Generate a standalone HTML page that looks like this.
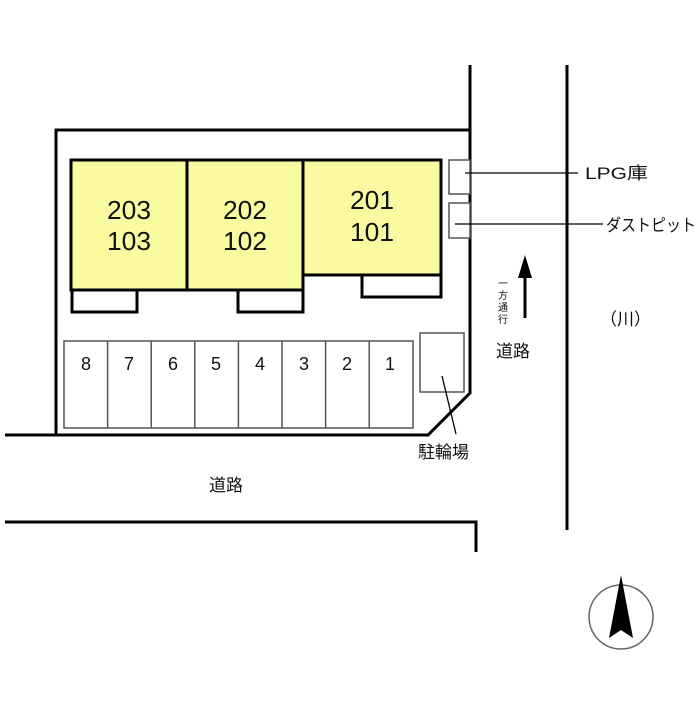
<!DOCTYPE html>
<html><head><meta charset="utf-8"><style>body{margin:0;background:#fff}</style></head><body>
<svg width="700" height="700" viewBox="0 0 700 700" xmlns="http://www.w3.org/2000/svg" font-family="'Liberation Sans','Noto Sans CJK JP',sans-serif">
<g stroke="#000" stroke-width="3" fill="none">
<polyline points="56,435 56,130 470,130"/>
<polyline points="470,65 470,393 428,435 5,435"/>
<polyline points="5,522 476,522 476,552"/>
<line x1="567" y1="65" x2="567" y2="530"/>
</g>
<g stroke="#000" stroke-width="3" fill="#fafaa0">
<rect x="71" y="160" width="116" height="130"/>
<rect x="187" y="160" width="116" height="130"/>
<rect x="303" y="160" width="138" height="115"/>
</g>
<g stroke="#000" stroke-width="3" fill="#fff">
<rect x="72" y="290" width="65" height="22"/>
<rect x="238" y="290" width="65" height="22"/>
<rect x="362" y="275" width="79" height="22"/>
</g>
<g stroke="#555" stroke-width="1.5" fill="#fff">
<rect x="449" y="160" width="21" height="34"/>
<rect x="449" y="203" width="21" height="35"/>
<rect x="420" y="333" width="44" height="59"/>
<rect x="64" y="341" width="349" height="87"/>
<line x1="107.6" y1="341" x2="107.6" y2="428"/><line x1="151.2" y1="341" x2="151.2" y2="428"/>
<line x1="194.8" y1="341" x2="194.8" y2="428"/><line x1="238.4" y1="341" x2="238.4" y2="428"/>
<line x1="282" y1="341" x2="282" y2="428"/><line x1="325.6" y1="341" x2="325.6" y2="428"/>
<line x1="369.2" y1="341" x2="369.2" y2="428"/>
</g>
<g stroke="#000" stroke-width="1.3">
<line x1="465" y1="173" x2="578" y2="173"/>
<line x1="455" y1="224" x2="603" y2="224"/>
<line x1="442" y1="376" x2="456" y2="434"/>
<line x1="525" y1="276" x2="525" y2="318" stroke-width="3"/>
</g>
<polygon points="525,255 518,278 532,278" fill="#000"/>
<g font-size="26" text-anchor="middle" fill="#111">
<text x="129" y="219" textLength="44" lengthAdjust="spacingAndGlyphs">203</text><text x="129" y="250" textLength="44" lengthAdjust="spacingAndGlyphs">103</text>
<text x="245" y="219" textLength="44" lengthAdjust="spacingAndGlyphs">202</text><text x="245" y="250" textLength="44" lengthAdjust="spacingAndGlyphs">102</text>
<text x="372" y="209" textLength="44" lengthAdjust="spacingAndGlyphs">201</text><text x="372" y="241" textLength="44" lengthAdjust="spacingAndGlyphs">101</text>
</g>
<g font-size="18" text-anchor="middle" fill="#111">
<text x="86" y="370">8</text><text x="129" y="370">7</text><text x="173" y="370">6</text><text x="216" y="370">5</text>
<text x="260" y="370">4</text><text x="304" y="370">3</text><text x="347" y="370">2</text><text x="390" y="370">1</text>
</g>
<g font-size="17" fill="#111">
<text x="585" y="179" textLength="63" lengthAdjust="spacingAndGlyphs">LPG庫</text>
<text x="606" y="231" textLength="90" lengthAdjust="spacingAndGlyphs">ダストピット</text>
<text x="418" y="458">駐輪場</text>
<text x="209" y="491">道路</text>
<text x="496" y="357">道路</text>
<text x="600" y="325">（川）</text>
</g>
<g font-size="10" fill="#111" text-anchor="middle">
<text x="503" y="287">一</text><text x="503" y="299">方</text><text x="503" y="311">通</text><text x="503" y="323">行</text>
</g>
<circle cx="621" cy="617" r="32" fill="none" stroke="#666" stroke-width="1.5"/>
<polygon points="621,575 609,638 621,630 633,638" fill="#000"/>
</svg>
</body></html>
